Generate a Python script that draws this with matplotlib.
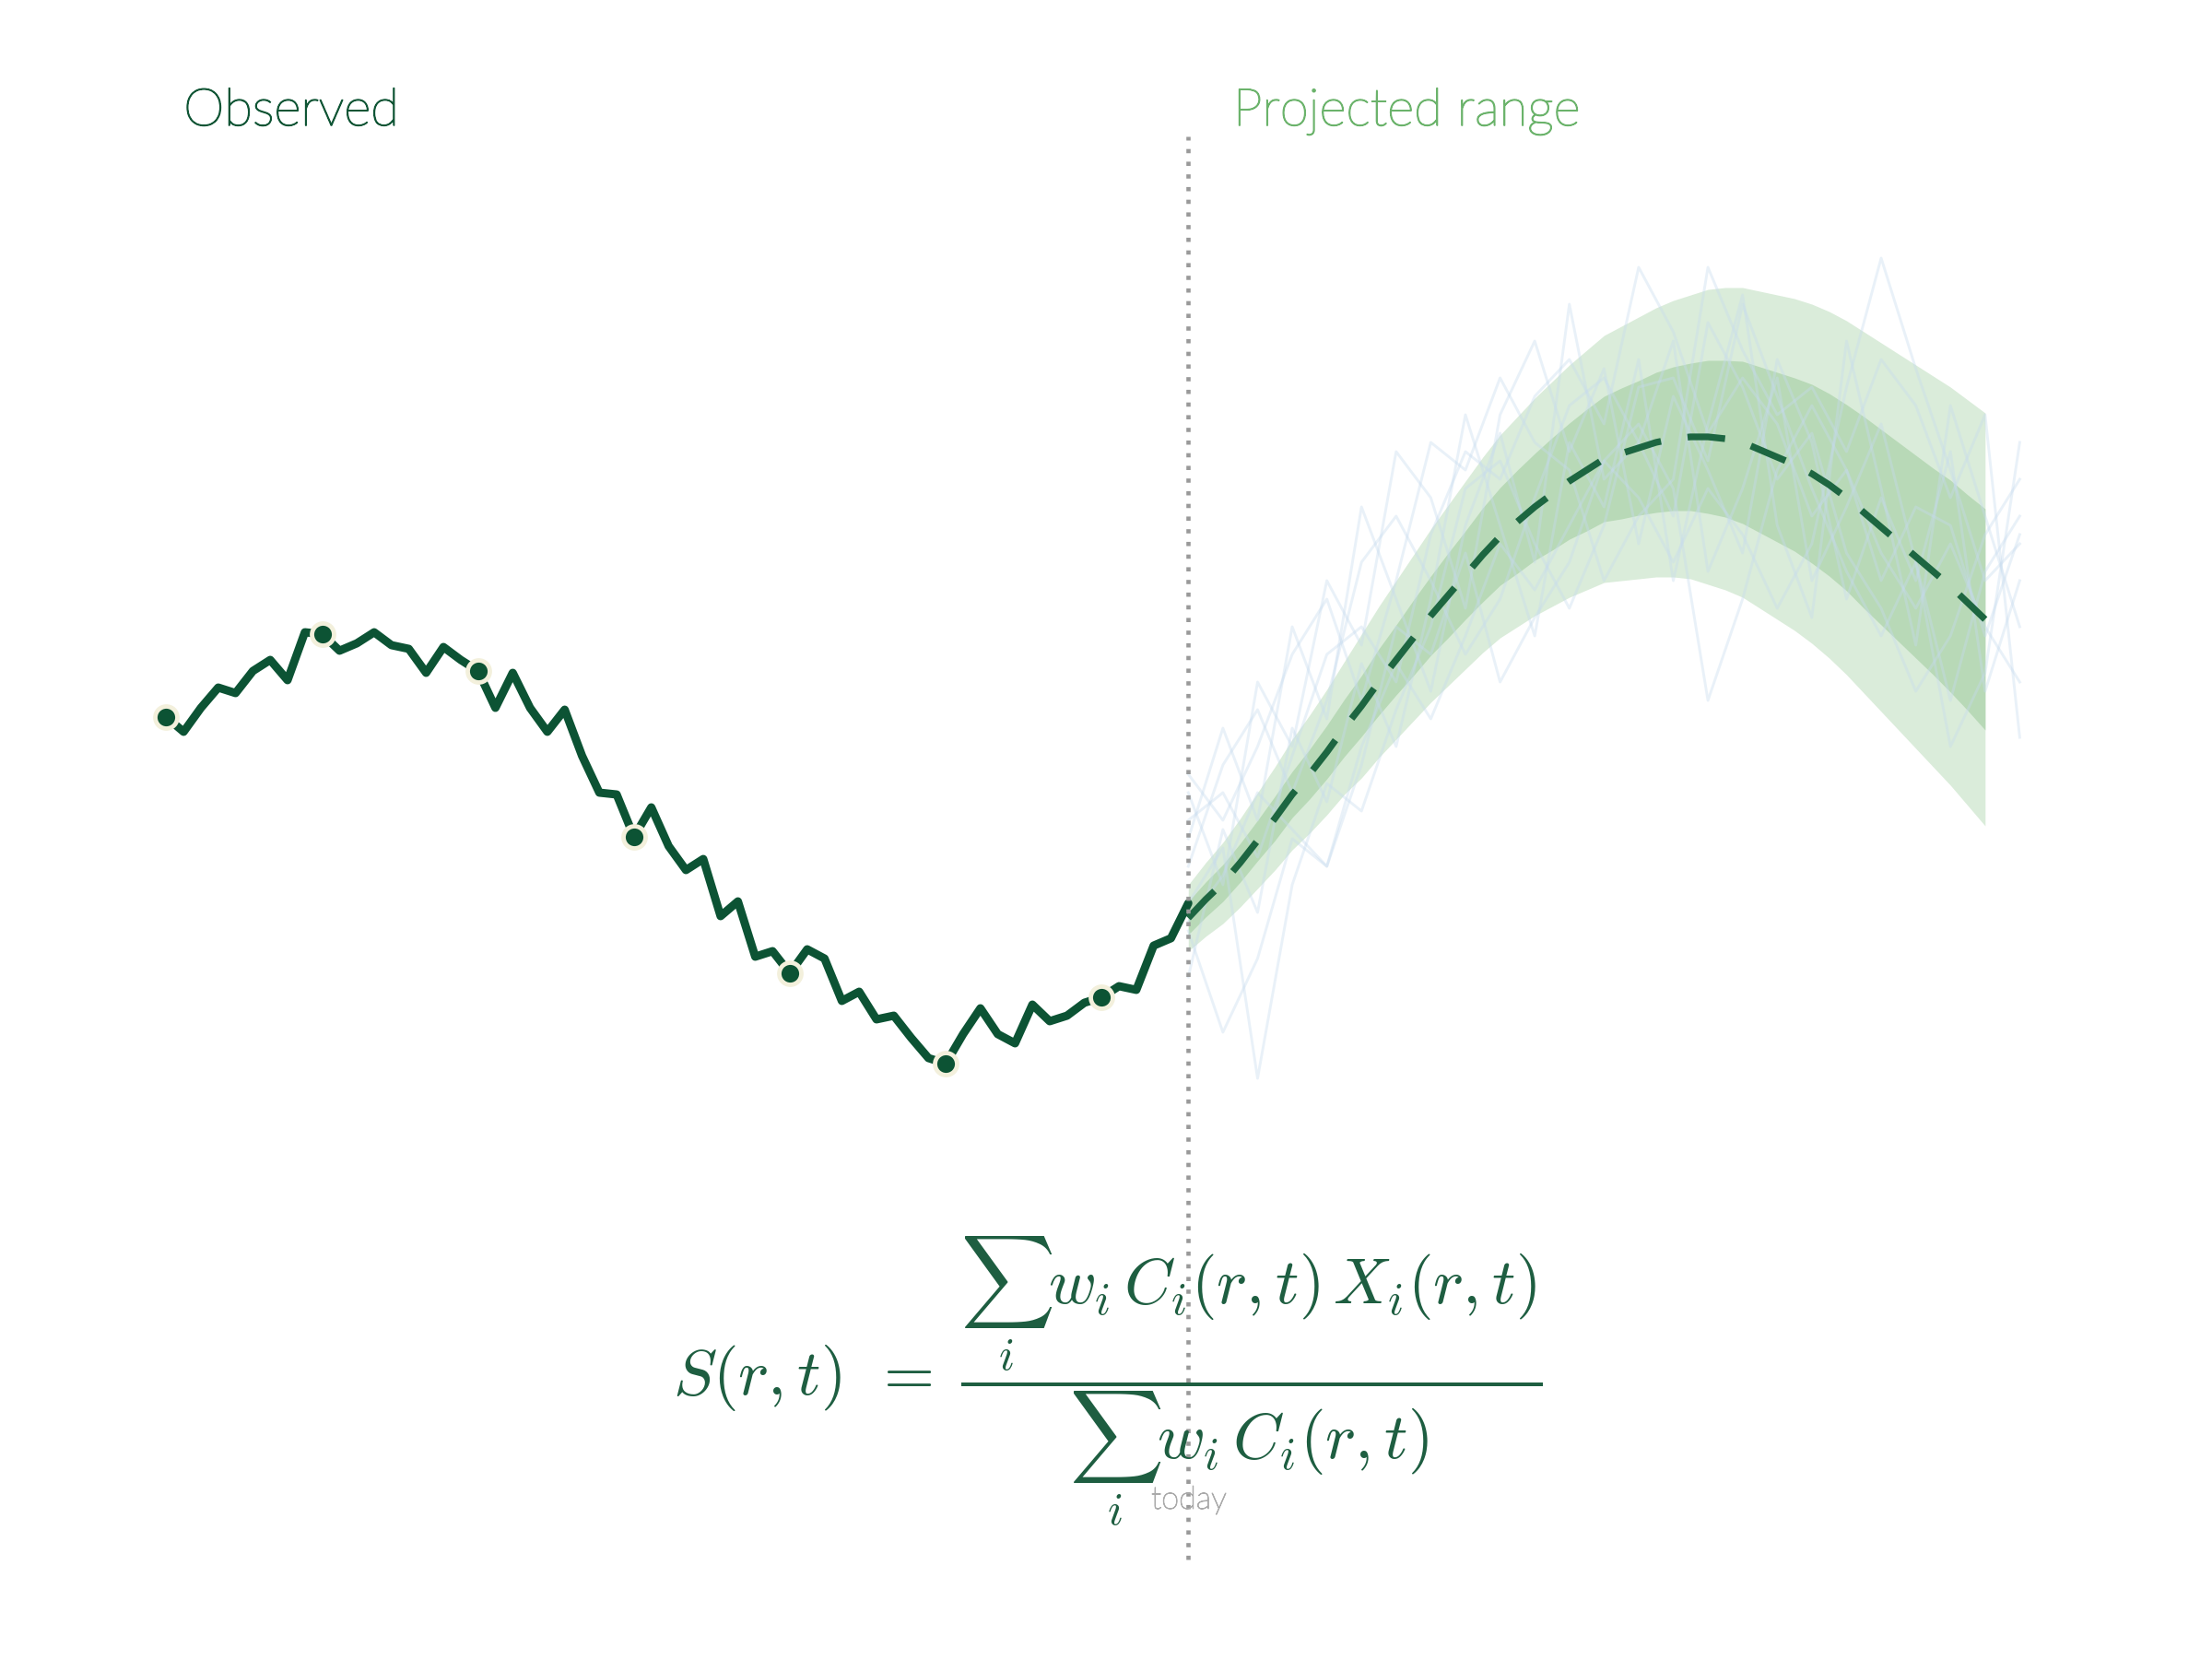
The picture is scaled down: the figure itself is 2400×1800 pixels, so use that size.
"""Observed series with projected range and weighted-sum formula."""

import matplotlib.patheffects as pe
import matplotlib.pyplot as plt
import numpy as np

# observed values, one per day (index 0..59)
observed = [
    1.11, 1.03, 1.16, 1.27, 1.24, 1.36, 1.42, 1.31, 1.57, 1.56,
    1.47, 1.51, 1.57, 1.50, 1.48, 1.35, 1.49, 1.42, 1.36, 1.16,
    1.35, 1.16, 1.03, 1.15, 0.90, 0.70, 0.69, 0.46, 0.62, 0.41,
    0.28, 0.34, 0.03, 0.11, -0.19, -0.16, -0.28, -0.15, -0.20, -0.43,
    -0.38, -0.53, -0.51, -0.63, -0.74, -0.77, -0.61, -0.47, -0.61, -0.66,
    -0.45, -0.54, -0.51, -0.44, -0.41, -0.35, -0.37, -0.13, -0.09, 0.10,
]
today = 59

# projection, one value per day from today to day 105
proj_center = [
    0.02, 0.12, 0.21, 0.32, 0.44, 0.56, 0.69, 0.80, 0.92, 1.05,
    1.17, 1.30, 1.42, 1.54, 1.66, 1.77, 1.88, 1.99, 2.09, 2.17,
    2.25, 2.32, 2.39, 2.45, 2.51, 2.54, 2.57, 2.60, 2.62, 2.63,
    2.63, 2.62, 2.60, 2.56, 2.52, 2.48, 2.43, 2.37, 2.30, 2.22,
    2.14, 2.06, 1.98, 1.90, 1.82, 1.73, 1.64,
]
inner_half = [
    0.090, 0.095, 0.100, 0.105, 0.110, 0.120, 0.125, 0.135, 0.145, 0.155,
    0.165, 0.180, 0.190, 0.205, 0.215, 0.230, 0.240, 0.255, 0.265, 0.280,
    0.290, 0.305, 0.315, 0.330, 0.340, 0.355, 0.365, 0.380, 0.390, 0.400,
    0.415, 0.425, 0.440, 0.450, 0.460, 0.470, 0.485, 0.495, 0.505, 0.520,
    0.530, 0.540, 0.550, 0.560, 0.575, 0.585, 0.600,
]
outer_half = [
    0.18, 0.20, 0.22, 0.24, 0.26, 0.28, 0.30, 0.32, 0.34, 0.36,
    0.39, 0.41, 0.43, 0.45, 0.47, 0.49, 0.51, 0.53, 0.55, 0.57,
    0.59, 0.61, 0.63, 0.65, 0.67, 0.69, 0.71, 0.73, 0.75, 0.77,
    0.80, 0.82, 0.84, 0.86, 0.88, 0.90, 0.92, 0.94, 0.96, 0.98,
    1.00, 1.02, 1.04, 1.06, 1.08, 1.10, 1.12,
]

# faint sample paths, every second day
path_days = [59, 61, 63, 65, 67, 69, 71, 73, 75, 77, 79, 81, 83,
             85, 87, 89, 91, 93, 95, 97, 99, 101, 103, 105, 107]
sample_paths = [
    [0.55, 0.70, 0.35, 0.90, 1.45, 1.60, 1.30, 2.10, 2.55, 2.40, 2.85, 3.05, 2.70,
     3.55, 3.20, 2.65, 2.95, 2.70, 2.20, 2.45, 2.00, 1.70, 2.05, 1.60, 1.30],
    [-0.05, -0.60, -0.20, 0.45, 0.30, 0.95, 1.40, 1.10, 1.55, 2.05, 1.80, 2.15, 2.50,
     2.30, 1.95, 2.35, 2.10, 1.70, 2.05, 2.90, 3.60, 3.00, 2.45, 1.85, 2.05],
    [0.30, 0.85, 1.15, 0.70, 1.20, 1.95, 2.20, 1.85, 1.45, 1.75, 2.30, 2.80, 2.95,
     2.60, 2.20, 3.25, 2.90, 2.40, 2.65, 2.00, 1.70, 1.25, 1.55, 2.10, 2.40],
    [0.10, 0.40, -0.85, 0.20, 0.75, 0.60, 1.15, 1.60, 2.35, 2.50, 2.05, 1.70, 2.15,
     2.90, 2.95, 2.50, 3.35, 2.85, 2.35, 1.90, 1.55, 1.95, 0.95, 1.35, 2.60],
    [0.80, 0.55, 0.95, 1.45, 1.75, 1.20, 1.85, 2.60, 2.45, 2.95, 2.60, 2.45, 1.85,
     2.20, 2.40, 3.55, 3.10, 2.75, 2.90, 2.55, 3.05, 2.80, 2.30, 2.75, 1.00],
    [0.00, 0.25, 0.70, 0.50, 0.30, 0.85, 1.60, 1.45, 2.00, 1.30, 1.65, 1.95, 2.50,
     2.70, 2.35, 1.20, 1.75, 2.45, 2.80, 2.45, 1.85, 2.25, 2.15, 1.55, 2.10],
    [0.70, 0.20, 1.30, 0.95, 1.85, 1.50, 2.55, 2.30, 1.70, 2.75, 3.15, 2.55, 3.00,
     2.05, 2.85, 2.45, 2.00, 3.05, 2.60, 1.75, 2.30, 1.85, 2.55, 1.25, 1.85],
    [-0.30, 0.50, 0.05, 1.05, 0.65, 1.40, 0.95, 1.75, 2.75, 2.15, 1.55, 2.60, 2.25,
     3.05, 1.85, 2.70, 3.40, 2.15, 1.65, 3.15, 2.35, 1.50, 2.80, 2.20, 1.60],
    [0.45, 1.05, 0.55, 1.60, 1.10, 2.25, 1.75, 1.25, 2.15, 2.65, 1.95, 3.35, 2.40,
     2.60, 3.15, 1.90, 2.35, 2.95, 1.85, 2.25, 2.70, 1.95, 1.20, 1.90, 2.20],
]

DARK = "#0c5334"
FORMULA = "#1e5e41"
BAND_OUTER = "#daecda"
BAND_INNER = "#b8d9b7"

fig = plt.figure(figsize=(16, 12), dpi=150)
ax = fig.add_axes([0, 0, 1, 1])
ax.set_xlim(-9.6, 118.1)
ax.set_ylim(-4.0, 5.0)
ax.axis("off")

days = np.arange(len(observed))
proj_days = np.arange(today, today + len(proj_center))
center = np.array(proj_center)
inner = np.array(inner_half)
outer = np.array(outer_half)

ax.fill_between(proj_days, center - outer, center + outer, color=BAND_OUTER,
                linewidth=0, zorder=1)
ax.fill_between(proj_days, center - inner, center + inner, color=BAND_INNER,
                linewidth=0, zorder=2)
for path in sample_paths:
    ax.plot(path_days, path, color="#c6dbef", alpha=0.38, linewidth=1.4, zorder=3)
ax.plot(proj_days, center, color="#1d6641", linewidth=3.5,
        linestyle=(0, (5.6, 4.0)), zorder=4)

ax.plot(days, observed, color=DARK, linewidth=4.3, solid_capstyle="round",
        marker="o", markevery=9, markersize=11.5, markerfacecolor=DARK,
        markeredgecolor="#f3f0dc", markeredgewidth=2.3, zorder=5)

ax.axvline(today, ymin=0.06, ymax=0.918, color="#999999", linewidth=2.2,
           linestyle=(0, (1, 2)), zorder=6)

# light weight, thickened slightly with a same-colour stroke
def label(x, y, text, color, size):
    fig.text(x, y, text, color=color, fontsize=size, family="Lato",
             fontweight="light", ha="left", va="baseline",
             path_effects=[pe.withStroke(linewidth=0.7, foreground=color)])

label(0.083, 0.9244, "Observed", "#0f5535", 27)
label(0.5575, 0.9244, "Projected range", "#6bb36b", 27)
fig.text(0.5375, 0.0906, "today", color="#aaaaaa", fontsize=16.5,
         family="Lato", fontweight="light", ha="center", va="baseline",
         path_effects=[pe.withStroke(linewidth=0.5, foreground="#aaaaaa")])

plt.rcParams["mathtext.fontset"] = "cm"
formula = (r"$S(r,t)\;\,=\;\dfrac{\sum_i w_i\,C_i(r,t)\,X_i(r,t)}"
           r"{\sum_i w_i\,C_i(r,t)}$")
fig.text(0.5008, 0.1667, formula, color=FORMULA, fontsize=34,
         ha="center", va="center", zorder=3)

fig.savefig("out.png", dpi=150, facecolor="white")
plt.close(fig)
